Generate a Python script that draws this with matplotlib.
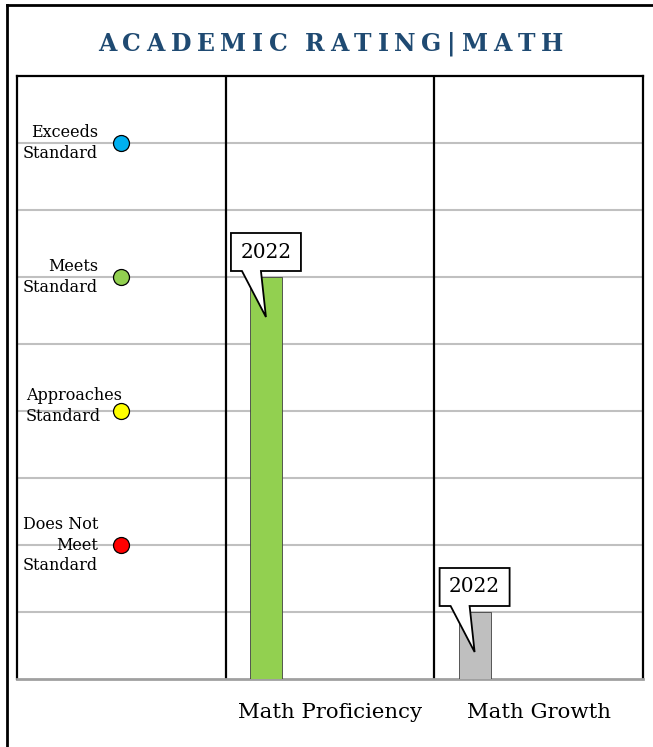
# plot.py
# academic rating chart, math

import matplotlib
matplotlib.use('Agg')
import matplotlib.pyplot as plt
from matplotlib.patches import Polygon
from matplotlib.lines import Line2D

# data
categories = ['', 'Math Proficiency', 'Math Growth']
bar_values = [6, 1]          # proficiency, growth
bar_colors = ['#92D050', '#BFBFBF']
bar_years = ['2022', '2022']

level_names = ['Exceeds\nStandard', 'Meets\nStandard', 'Approaches\nStandard',
               'Does Not\nMeet\nStandard']
level_values = [8, 6, 4, 2]
level_colors = ['#00B0F0', '#92D050', '#FFFF00', '#FF0000']

grid_values = [1, 2, 3, 4, 5, 6, 7, 8]

title = 'ACADEMIC RATING|MATH'

FONT = 'DejaVu Serif'


def px_to_data(ax, x, y, dx, dy):
    # shift a data point by a pixel offset
    px, py = ax.transData.transform((x, y))
    return ax.transData.inverted().transform((px + dx, py + dy))


def callout(ax, x, top, label):
    # white box with a tail pointing into the bar
    box = [(-35, 6), (-24, 6), (0, -40), (-5, 6), (35, 6), (35, 44), (-35, 44)]
    verts = [px_to_data(ax, x, top, dx, dy) for dx, dy in box]
    ax.add_patch(Polygon(verts, closed=True, facecolor='white', edgecolor='black',
                         linewidth=1.3, zorder=5, joinstyle='miter'))
    cx, cy = px_to_data(ax, x, top, 0, 25)
    ax.text(cx, cy, label, ha='center', va='center', fontsize=14.5,
            family=FONT, zorder=6)


def spaced_title(fig, text, left, right, base, size):
    # letter-spaced title, one text per character
    r = fig.canvas.get_renderer()
    W, H = fig.canvas.get_width_height()
    widths = []
    for ch in text:
        if ch == ' ':
            widths.append(6)
            continue
        t = fig.text(0, 0, ch, fontsize=size, fontweight='bold', family=FONT)
        widths.append(t.get_window_extent(r).width)
        t.remove()
    gap = (right - left - sum(widths)) / (len(text) - 1)
    x = left
    for ch, w in zip(text, widths):
        if ch != ' ':
            fig.text(x / W, 1 - base / H, ch, fontsize=size, fontweight='bold',
                     family=FONT, color='#1F4A72', ha='left', va='baseline')
        x += w + gap


def main():
    fig = plt.figure(figsize=(6.53, 7.47), dpi=100)
    ax = fig.add_axes([17 / 653, 68 / 747, 626 / 653, 603 / 747])
    ax.set_xlim(-0.5, 2.5)
    ax.set_ylim(0, 9)

    for g in grid_values:
        ax.axhline(g, color='#C0C0C0', lw=1.5, zorder=1)
    for v in [0.5, 1.5]:
        ax.axvline(v, color='black', lw=1.6, zorder=2)

    # rating levels in the first column
    for name, val, col in zip(level_names, level_values, level_colors):
        ax.plot(0, val, 'o', ms=11.5, mfc=col, mec='black', mew=0.9, zorder=4)
        if name.startswith('Approaches'):
            ax.text(-0.457, val + 0.07, name, ha='left', va='center', fontsize=11.5,
                    family=FONT, multialignment='left', linespacing=1.3)
        else:
            ax.text(-0.112, val, name, ha='right', va='center', fontsize=11.5,
                    family=FONT, multialignment='right', linespacing=1.3)

    xs = [1 - 0.307, 2 - 0.307]
    ax.bar(xs, bar_values, width=0.153, color=bar_colors, edgecolor='#404040',
           linewidth=0.6, zorder=3)

    ax.set_xticks([1, 2])
    ax.set_xticklabels(categories[1:], family=FONT, fontsize=15.3)
    ax.tick_params(axis='x', length=0, pad=17)
    ax.set_yticks([])
    for s in ['left', 'top', 'right']:
        ax.spines[s].set_color('black')
        ax.spines[s].set_linewidth(1.6)
    ax.spines['bottom'].set_color('#A0A0A0')
    ax.spines['bottom'].set_linewidth(2)

    for x, v, yr in zip(xs, bar_values, bar_years):
        callout(ax, x, v, yr)

    spaced_title(fig, title, 98, 563, 51, 17)

    # outer frame, only left and top show
    fig.add_artist(Line2D([6.5 / 653, 6.5 / 653], [0, 1 - 5 / 747], color='black', lw=2))
    fig.add_artist(Line2D([6.5 / 653, 1], [1 - 5 / 747, 1 - 5 / 747], color='black', lw=2))

    fig.savefig('out.png', dpi=100)


if __name__ == '__main__':
    main()
